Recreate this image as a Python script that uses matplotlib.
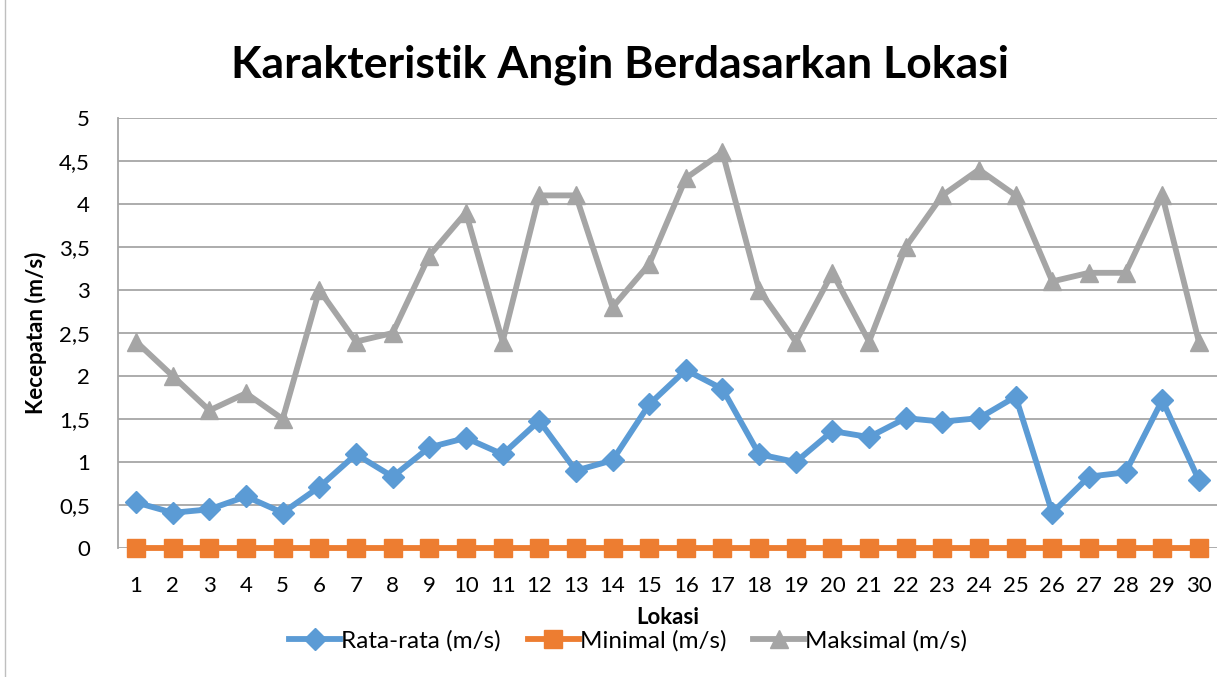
import matplotlib.pyplot as plt
from matplotlib.ticker import FuncFormatter

lokasi = list(range(1, 31))
rata_rata = [0.53, 0.41, 0.45, 0.60, 0.41, 0.71, 1.09, 0.83, 1.17, 1.28,
             1.09, 1.48, 0.90, 1.02, 1.67, 2.07, 1.85, 1.09, 1.00, 1.36,
             1.29, 1.51, 1.47, 1.51, 1.76, 0.41, 0.83, 0.88, 1.72, 0.79]
minimal = [0] * 30
maksimal = [2.4, 2.0, 1.6, 1.8, 1.5, 3.0, 2.4, 2.5, 3.4, 3.9,
            2.4, 4.1, 4.1, 2.8, 3.3, 4.3, 4.6, 3.0, 2.4, 3.2,
            2.4, 3.5, 4.1, 4.4, 4.1, 3.1, 3.2, 3.2, 4.1, 2.4]

plt.rcParams['font.family'] = ['Lato', 'DejaVu Sans']

fig = plt.figure(figsize=(12.27, 6.77), dpi=100)
ax = fig.add_axes([0.096, 0.1905, 0.896, 0.6352])

ax.plot(lokasi, rata_rata, color='#5B9BD5', lw=4.2, marker='D', ms=11, label='Rata-rata (m/s)', zorder=4)
ax.plot(lokasi, minimal, color='#ED7D31', lw=4.2, marker='s', ms=13, label='Minimal (m/s)', zorder=3,
        clip_on=False)
ax.plot(lokasi, maksimal, color='#A5A5A5', lw=4.2, marker='^', ms=13, label='Maksimal (m/s)', zorder=4)

ax.set_xlim(0.5, 30.5)
ax.set_ylim(0, 5)
ax.set_xticks(lokasi)
ax.set_yticks([i * 0.5 for i in range(11)])
ax.yaxis.set_major_formatter(FuncFormatter(lambda v, p: f'{v:g}'.replace('.', ',')))
ax.tick_params(length=0, labelsize=16, colors='black')
ax.tick_params(axis='x', pad=20)
ax.tick_params(axis='y', pad=20)
ax.grid(axis='y', color='#a6a6a6', lw=1.3)
ax.set_axisbelow(True)
for s in ['top', 'right', 'bottom']:
    ax.spines[s].set_visible(False)
ax.spines['left'].set_color('#a6a6a6')
ax.spines['left'].set_linewidth(1.3)

ax.set_xlabel('Lokasi', fontsize=16, fontweight='bold', labelpad=8)
ax.set_ylabel('Kecepatan (m/s)', fontsize=16, fontweight='bold', labelpad=9)
fig.text(0.505, 0.905, 'Karakteristik Angin Berdasarkan Lokasi', ha='center', va='center',
         fontsize=32, fontweight='bold')

fig.legend(loc='center', bbox_to_anchor=(0.512, 0.053), ncol=3, frameon=False,
           fontsize=17.5, handlelength=2.1, handletextpad=0.05, columnspacing=1.1)

fig.patches.append(plt.Rectangle((0.004, -0.01), 1.2, 1.2, transform=fig.transFigure,
                                 fill=False, edgecolor='#bfbfbf', lw=1))

fig.savefig('out.png', dpi=100)
